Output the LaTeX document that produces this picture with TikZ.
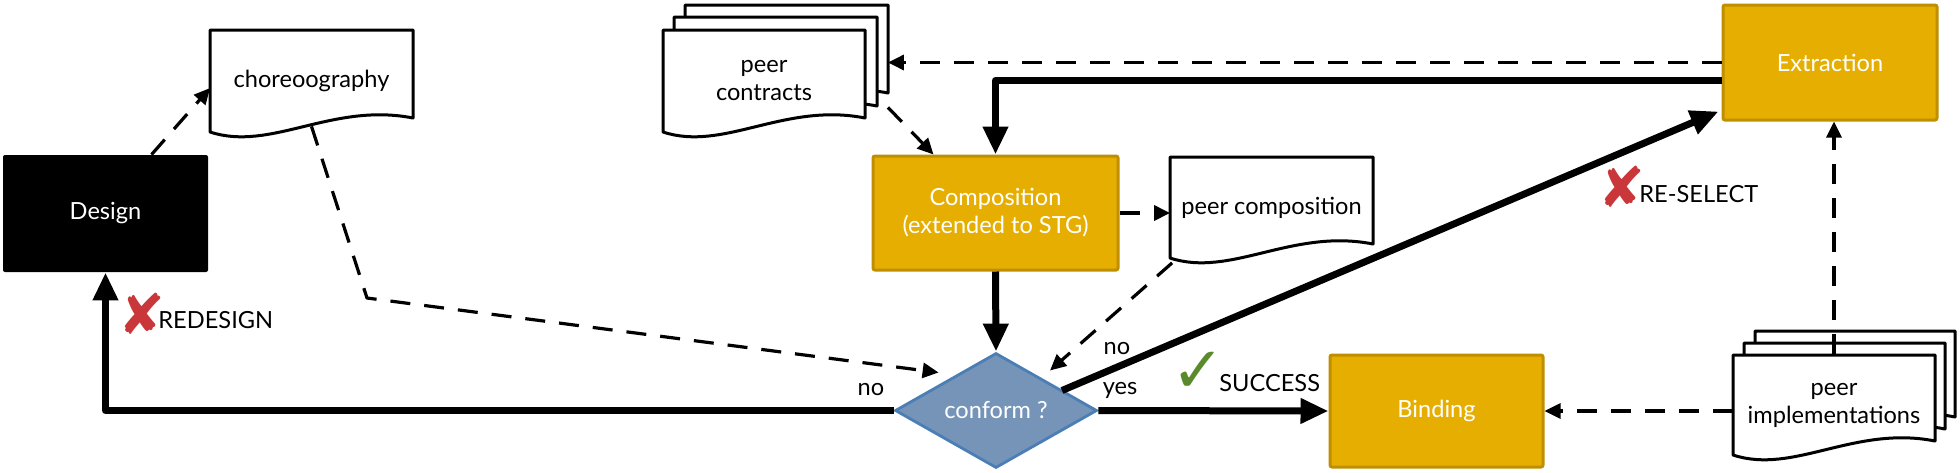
\documentclass[tikz,border=0pt]{standalone}
\usepackage{fontspec}
\setmainfont{Lato}
\newfontfamily\symfont{DejaVu Sans}
\usetikzlibrary{arrows.meta,shapes.geometric,calc}
\definecolor{gold}{HTML}{E5AE00}
\definecolor{golddark}{HTML}{BF8F00}
\definecolor{dfill}{HTML}{7594B8}
\definecolor{dline}{HTML}{4A7EB5}
\definecolor{xred}{HTML}{C9373A}
\definecolor{okgreen}{HTML}{5A8A2C}
\newcommand\mydocsh[4]{% x1, ytop, x2, ybottom-left
  \pgfmathsetmacro\mydw{#3-#1}
  \draw[docline] (#1,#4) -- (#1,#2) -- (#3,#2) -- (#3,#4-14)
    .. controls ({#1+0.6*\mydw},#4-30) and ({#1+0.3*\mydw},#4+20) .. (#1,#4) -- cycle;}
\tikzset{
  txt/.style={font=\fontsize{11.8}{14}\selectfont, align=center, inner sep=0pt},
  procbox/.style={txt, rectangle, fill=gold, draw=golddark, line width=1.5pt, text=white, rounded corners=1pt},
  docnode/.style={txt, rectangle, draw=none, minimum width=101pt, minimum height=51pt},
  docline/.style={draw=black, fill=white, line width=1.5pt, line join=round},
  thickarrow/.style={line width=3.5pt, -{Triangle[length=14pt,width=12pt]}, line join=round},
  dasharrow/.style={line width=1.6pt, dash pattern=on 10pt off 7pt, -{Triangle[length=8pt,width=7.5pt]}, line join=round},
  lbl/.style={txt, text=black},
  xmark/.style={inner sep=0pt, text=xred, font=\symfont\fontsize{28}{28}\selectfont},
  vmark/.style={inner sep=0pt, text=okgreen, font=\symfont\fontsize{32}{32}\selectfont},
}
\begin{document}
\begin{tikzpicture}[x=0.5pt,y=-0.5pt]
\useasboundingbox (0,0) rectangle (1960,472);

% process boxes
\node[txt, rectangle, fill=black, text=white, minimum width=102.5pt, minimum height=58.5pt, rounded corners=1pt] (design) at (105.5,213.5) {Design};
\node[procbox, minimum width=122.5pt, minimum height=57pt] (comp) at (995.5,213) {Composition\\(extended to STG)};
\node[procbox, minimum width=107pt, minimum height=57.5pt] (extr) at (1830,62.5) {Extraction};
\node[procbox, minimum width=106.5pt, minimum height=56pt] (bind) at (1436.5,411) {Binding};
\node[txt, diamond, aspect=1.76, fill=dfill, draw=dline, line width=1.4pt, text=white, minimum width=101pt, minimum height=57.5pt] (conf) at (996,410.5) {conform ?};

% documents
\mydocsh{210}{30}{413}{132}
\node[docnode] (chor) at (311.5,81) {choreoography};

\mydocsh{685}{5}{888}{107}
\node[docnode] (pc3) at (786.5,56) {};
\mydocsh{674}{17}{877}{120}
\node[docnode] (pc2) at (775.5,68.5) {};
\mydocsh{663}{30}{865}{132}
\node[docnode] (pc) at (764,81) {peer\\contracts};

\mydocsh{1170}{157}{1373}{258}
\node[docnode] (pcomp) at (1271.5,207.5) {peer composition};

\mydocsh{1755}{331}{1955}{431}
\node[docnode] (pi3) at (1855,381) {};
\mydocsh{1744}{343}{1945}{443}
\node[docnode] (pi2) at (1844.5,393) {};
\mydocsh{1733}{355}{1935}{455}
\node[docnode] (pi) at (1834,405) {peer\\implementations};

% connectors
\coordinate (bend1) at (367,298);
\draw[dasharrow] ([xshift=23pt]design.north) -- ([yshift=-3.5pt]chor.west);
\draw[dasharrow] ([yshift=3pt]chor.south) -- (bend1) -- ([shift={(22.5pt,19pt)}]conf.west);
\draw[thickarrow] (conf.west) -| (design.south);
\draw[thickarrow] (comp.south) -- (conf.north);
\draw[thickarrow] ([yshift=-9pt]extr.west) -| (comp.north);
\draw[dasharrow] (extr.west) -- (extr.west -| pc3.east);
\draw[dasharrow] (pc3.south east) -- ([xshift=31pt]comp.north west);
\draw[dasharrow] (comp.east) -- (comp.east -| pcomp.west);
\draw[dasharrow] ([shift={(1pt,-2pt)}]pcomp.south west) -- ([shift={(27pt,20pt)}]conf.center);
\draw[thickarrow] ([shift={(33pt,10pt)}]conf.center) -- ([shift={(-1.5pt,5pt)}]extr.south west);
\draw[thickarrow] (conf.east) -- (bind.west);
\draw[dasharrow] (bind.east -| pi.west) -- (bind.east);
\draw[dasharrow] (pi.north) -- (pi.north |- extr.south);

% labels
\node[lbl] (lno1) at (871,390) {no};
\node[xmark] (x1) at (142,314) {✘};
\node[lbl, anchor=west] (lredes) at (158,320) {REDESIGN};
\node[lbl] (lno2) at (1117,349) {no};
\node[lbl] (lyes) at (1120,390) {yes};
\node[vmark] (v1) at (1198,372) {✓};
\node[lbl, anchor=west] (lsucc) at (1219,383) {SUCCESS};
\node[xmark] (x2) at (1622,187) {✘};
\node[lbl, anchor=west] (lresel) at (1639,194) {RE-SELECT};
\end{tikzpicture}
\end{document}
